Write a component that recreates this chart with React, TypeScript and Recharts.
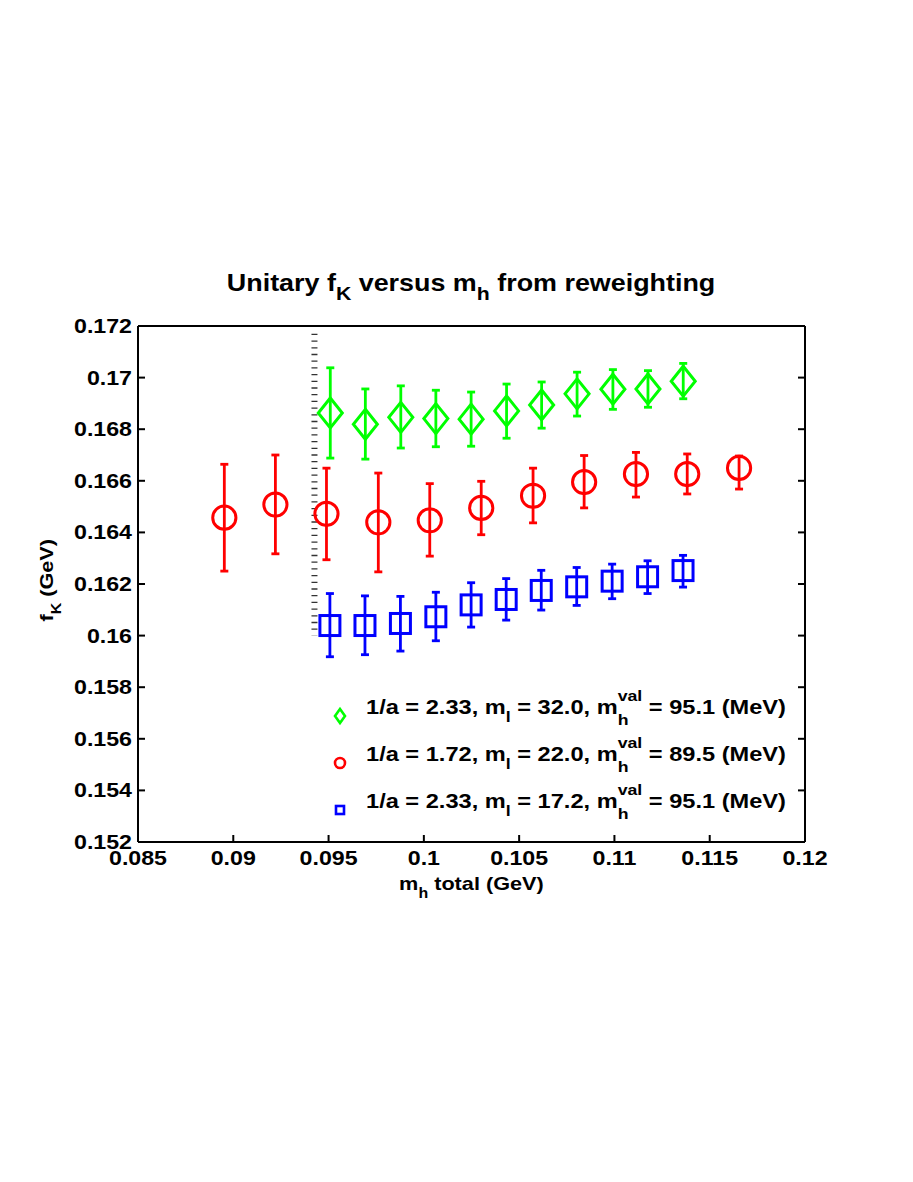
import React from 'react';
import { ScatterChart, Scatter, XAxis, YAxis, ErrorBar, ReferenceLine } from 'recharts';

// ---- data ----
const greenX = [0.09509, 0.09693, 0.09879, 0.10063, 0.10248, 0.10434, 0.10618, 0.10804, 0.10992, 0.11176, 0.11361];
const greenY = [0.16863, 0.16819, 0.16846, 0.16841, 0.16839, 0.16871, 0.16894, 0.16937, 0.16955, 0.16956, 0.16986];
const greenHi = [0.17038, 0.16956, 0.16968, 0.16951, 0.16944, 0.16975, 0.16983, 0.17021, 0.17031, 0.17027, 0.17055];
const greenLo = [0.16688, 0.16684, 0.16727, 0.16732, 0.16734, 0.16765, 0.16804, 0.16851, 0.16877, 0.16885, 0.16918];

const redX = [0.08953, 0.09221, 0.09489, 0.09761, 0.10031, 0.10301, 0.10573, 0.10841, 0.11113, 0.11382, 0.11654];
const redY = [0.16457, 0.16508, 0.16472, 0.16439, 0.16447, 0.16495, 0.16542, 0.16595, 0.16626, 0.16626, 0.1665];
const redHi = [0.16664, 0.167, 0.16649, 0.1663, 0.16589, 0.16598, 0.16649, 0.16698, 0.1671, 0.16704, 0.16696];
const redLo = [0.1625, 0.16317, 0.16294, 0.16247, 0.16308, 0.16391, 0.16437, 0.16495, 0.16537, 0.16549, 0.16568];

const blueX = [0.09507, 0.09691, 0.09877, 0.10063, 0.10248, 0.10432, 0.10616, 0.10802, 0.10988, 0.11174, 0.1136];
const blueY = [0.16039, 0.16039, 0.16047, 0.16073, 0.16119, 0.1614, 0.16175, 0.16189, 0.16211, 0.16228, 0.16252];
const blueHi = [0.16163, 0.16154, 0.16152, 0.16168, 0.16205, 0.16221, 0.16253, 0.16264, 0.16277, 0.1629, 0.16311];
const blueLo = [0.15918, 0.15926, 0.1594, 0.1598, 0.16033, 0.1606, 0.16099, 0.16117, 0.16143, 0.16163, 0.16188];

const xTicks = [0.085, 0.09, 0.095, 0.1, 0.105, 0.11, 0.115, 0.12];
const yTicks = [0.152, 0.154, 0.156, 0.158, 0.16, 0.162, 0.164, 0.166, 0.168, 0.17, 0.172];
const xDomain = [0.085, 0.12];
const yDomain = [0.152, 0.172];

const cutX = 0.09426;
const cutTop = 0.1717;
const cutBottom = 0.16;

const title = 'Unitary f_K versus m_h from reweighting';
const legendRows = [
  { a: '2.33', ml: '32.0', mh: '95.1' },
  { a: '1.72', ml: '22.0', mh: '89.5' },
  { a: '2.33', ml: '17.2', mh: '95.1' },
];

const GREEN = '#00ff00';
const RED = '#ff0000';
const BLUE = '#0000ff';
const FONT = '"Liberation Sans", Arial, Helvetica, sans-serif';
const SX = 1.16;

const build = (xs: number[], ys: number[], hi: number[], lo: number[]) =>
  xs.map((x, i) => ({ x, y: ys[i], err: [ys[i] - lo[i], hi[i] - ys[i]] }));

const greenData = build(greenX, greenY, greenHi, greenLo);
const redData = build(redX, redY, redHi, redLo);
const blueData = build(blueX, blueY, blueHi, blueLo);

const fmt = (v: number) => String(parseFloat(v.toFixed(4)));

const Diamond = (p: any) => {
  const { cx, cy } = p;
  if (cx == null || cy == null) return null;
  return (
    <path
      d={`M${cx},${cy - 15} L${cx + 12},${cy} L${cx},${cy + 15} L${cx - 12},${cy} Z`}
      fill="none"
      stroke={GREEN}
      strokeWidth={3}
    />
  );
};
const Circle = (p: any) => {
  const { cx, cy } = p;
  if (cx == null || cy == null) return null;
  return <circle cx={cx} cy={cy} r={11.6} fill="none" stroke={RED} strokeWidth={3} />;
};
const Square = (p: any) => {
  const { cx, cy } = p;
  if (cx == null || cy == null) return null;
  return <rect x={cx - 10} y={cy - 10} width={20} height={20} fill="none" stroke={BLUE} strokeWidth={3} />;
};

const txt = (x: number, y: number, anchor: string, s: string, size = 20) => (
  <text
    transform={`translate(${x},${y}) scale(${SX},1)`}
    textAnchor={anchor as any}
    fontFamily={FONT}
    fontWeight="bold"
    fontSize={size}
    fill="#000"
  >
    {s}
  </text>
);

const BottomTick = (p: any) => {
  const { x, y, payload } = p;
  return (
    <g>
      <line x1={x} x2={x} y1={y} y2={y - 7} stroke="#000" strokeWidth={2} />
      {txt(x, y + 23, 'middle', fmt(payload.value))}
    </g>
  );
};
const TopTick = (p: any) => {
  const { x, y } = p;
  return <line x1={x} x2={x} y1={y} y2={y + 7} stroke="#000" strokeWidth={2} />;
};
const LeftTick = (p: any) => {
  const { x, y, payload } = p;
  return (
    <g>
      <line x1={x} x2={x + 7} y1={y} y2={y} stroke="#000" strokeWidth={2} />
      {txt(x - 6, y + 7, 'end', fmt(payload.value))}
    </g>
  );
};
const RightTick = (p: any) => {
  const { x, y } = p;
  return <line x1={x} x2={x - 7} y1={y} y2={y} stroke="#000" strokeWidth={2} />;
};

const stretch = (sx: number): React.CSSProperties => ({
  display: 'inline-block',
  transform: `scaleX(${sx})`,
  transformOrigin: 'left center',
  whiteSpace: 'nowrap',
});

const Sub = ({ children, drop = 8, size = 14 }: any) => (
  <span style={{ fontSize: size, position: 'relative', top: drop }}>{children}</span>
);

const SupSub = ({ sup, sub }: any) => (
  <span
    style={{
      display: 'inline-block',
      position: 'relative',
      top: 11,
      fontSize: 15,
      lineHeight: '15px',
      verticalAlign: 'baseline',
    }}
  >
    <span style={{ display: 'block' }}>{sup}</span>
    <span style={{ display: 'block', marginTop: 9 }}>{sub}</span>
  </span>
);

const LegendMarker = ({ i }: { i: number }) => (
  <svg width={20} height={20} style={{ position: 'absolute', left: -36, top: 29 }}>
    {i === 0 && <path d="M10,3 L15,10 L10,17 L5,10 Z" fill="none" stroke={GREEN} strokeWidth={2.6} />}
    {i === 1 && <circle cx={10} cy={10} r={5} fill="none" stroke={RED} strokeWidth={2.6} />}
    {i === 2 && <rect x={6} y={6} width={8} height={8} fill="none" stroke={BLUE} strokeWidth={2.6} />}
  </svg>
);

export default function App() {
  const parts = title.split(/(_[A-Za-z])/);
  return (
    <div style={{ position: 'absolute', left: 0, top: 0, width: 913, height: 1182, background: '#fff', fontFamily: FONT }}>
      <ScatterChart width={913} height={1182} margin={{ top: 325, left: 137, right: 107, bottom: 339 }}>
        <XAxis
          xAxisId={0}
          dataKey="x"
          type="number"
          domain={xDomain}
          ticks={xTicks}
          allowDataOverflow
          height={1}
          tickSize={0}
          tickMargin={0}
          tickLine={false}
          axisLine={{ stroke: '#000', strokeWidth: 2 }}
          tick={<BottomTick />}
          interval={0}
        />
        <XAxis
          xAxisId="top"
          orientation="top"
          type="number"
          domain={xDomain}
          ticks={xTicks}
          allowDataOverflow
          height={1}
          tickSize={0}
          tickMargin={0}
          tickLine={false}
          axisLine={{ stroke: '#000', strokeWidth: 2 }}
          tick={<TopTick />}
          interval={0}
        />
        <YAxis
          yAxisId={0}
          dataKey="y"
          type="number"
          domain={yDomain}
          ticks={yTicks}
          allowDataOverflow
          width={1}
          tickSize={0}
          tickMargin={0}
          tickLine={false}
          axisLine={{ stroke: '#000', strokeWidth: 2 }}
          tick={<LeftTick />}
          interval={0}
        />
        <YAxis
          yAxisId="right"
          orientation="right"
          type="number"
          domain={yDomain}
          ticks={yTicks}
          allowDataOverflow
          width={1}
          tickSize={0}
          tickMargin={0}
          tickLine={false}
          axisLine={{ stroke: '#000', strokeWidth: 2 }}
          tick={<RightTick />}
          interval={0}
        />
        <ReferenceLine
          segment={[
            { x: cutX, y: cutTop },
            { x: cutX, y: cutBottom },
          ]}
          stroke="#333"
          strokeWidth={6}
          strokeDasharray="1.3 5.4"
          ifOverflow="visible"
        />
        <Scatter data={greenData} shape={Diamond} isAnimationActive={false}>
          <ErrorBar dataKey="err" direction="y" width={4} stroke={GREEN} strokeWidth={2.8} isAnimationActive={false} />
        </Scatter>
        <Scatter data={redData} shape={Circle} isAnimationActive={false}>
          <ErrorBar dataKey="err" direction="y" width={4} stroke={RED} strokeWidth={2.8} isAnimationActive={false} />
        </Scatter>
        <Scatter data={blueData} shape={Square} isAnimationActive={false}>
          <ErrorBar dataKey="err" direction="y" width={4} stroke={BLUE} strokeWidth={2.8} isAnimationActive={false} />
        </Scatter>
      </ScatterChart>

      {/* title */}
      <div
        style={{
          position: 'absolute',
          left: 0,
          width: 943,
          top: 268,
          textAlign: 'center',
          fontWeight: 'bold',
          fontSize: 24,
          lineHeight: '30px',
        }}
      >
        <span style={{ ...stretch(1.12), transformOrigin: 'center center' }}>
          {parts.map((s, i) =>
            s.startsWith('_') ? (
              <Sub key={i} drop={9} size={19}>
                {s.slice(1)}
              </Sub>
            ) : (
              <span key={i}>{s}</span>
            )
          )}
        </span>
      </div>

      {/* x axis label */}
      <div
        style={{
          position: 'absolute',
          left: 0,
          width: 943,
          top: 872,
          textAlign: 'center',
          fontWeight: 'bold',
          fontSize: 19,
          lineHeight: '24px',
        }}
      >
        <span style={{ ...stretch(1.14), transformOrigin: 'center center' }}>
          m<Sub>h</Sub> total (GeV)
        </span>
      </div>

      {/* y axis label */}
      <div style={{ position: 'absolute', left: 47, top: 580, width: 0, height: 0 }}>
        <div
          style={{
            position: 'absolute',
            left: -100,
            top: -12,
            width: 200,
            textAlign: 'center',
            fontWeight: 'bold',
            fontSize: 19,
            lineHeight: '24px',
            transform: 'rotate(-90deg)',
            whiteSpace: 'nowrap',
          }}
        >
          <span style={{ ...stretch(1.14), transformOrigin: 'center center' }}>
            f<Sub>K</Sub> (GeV)
          </span>
        </div>
      </div>

      {/* legend */}
      {legendRows.map((r, i) => (
        <div
          key={i}
          style={{
            position: 'absolute',
            left: 366,
            top: 677 + i * 47,
            fontWeight: 'bold',
            fontSize: 20,
            lineHeight: '28px',
            whiteSpace: 'nowrap',
          }}
        >
          <LegendMarker i={i} />
          <span style={stretch(1.18)}>
            1/a = {r.a}, m<Sub size={15}>l</Sub> = {r.ml}, m<SupSub sup="val" sub="h" /> = {r.mh} (MeV)
          </span>
        </div>
      ))}
    </div>
  );
}
